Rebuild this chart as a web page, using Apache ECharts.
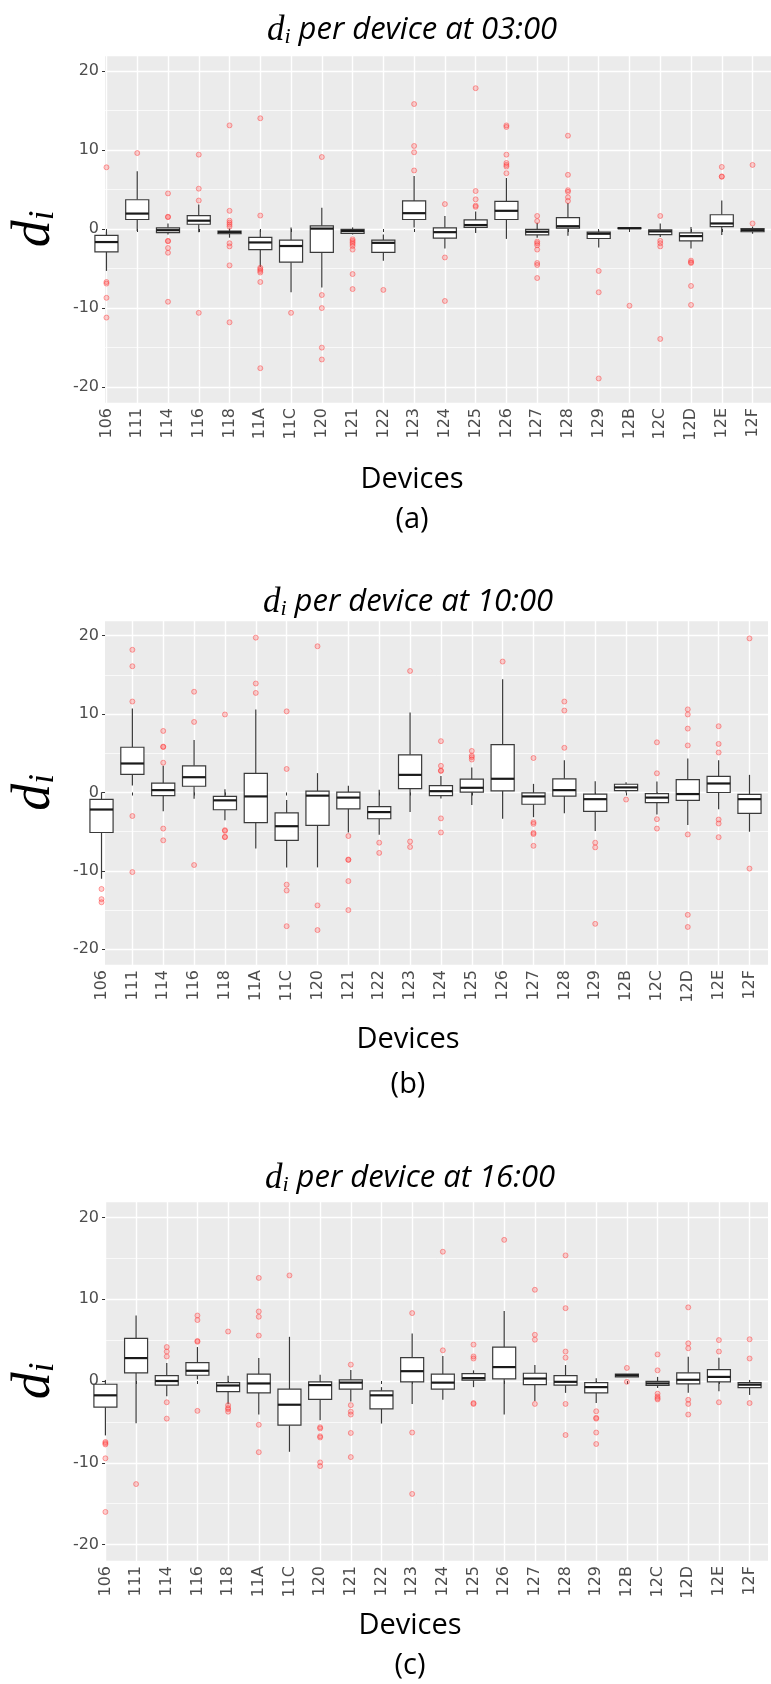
<!DOCTYPE html>
<html>
<head>
<meta charset="utf-8">
<script src="https://cdn.jsdelivr.net/npm/echarts@6/dist/echarts.min.js"></script>
<style>
html, body { margin: 0; padding: 0; background: #fff; }
#main { width: 771px; height: 1684px; }
</style>
</head>
<body>
<div id="main"></div>
<script>
// devices on the x axis
var devices = ['106','111','114','116','118','11A','11C','120','121','122','123','124','125','126','127','128','129','12B','12C','12D','12E','12F'];

// (a) 03:00  -- whisker low, Q1, median, Q3, whisker high
var loA  = [-5.3, -0.25, -0.7, -0.4, -1.1, -4.8, -8.0, -7.4, -0.7, -4.0, 0.2, -2.45, -0.5, -1.25, -1.1, -0.85, -2.35, 0.05, -1.0, -2.45, -0.75, -0.6];
var q1A  = [-2.9, 1.2, -0.45, 0.6, -0.6, -2.6, -4.2, -2.95, -0.55, -2.95, 1.2, -1.15, 0.2, 1.2, -0.75, 0.1, -1.2, 0.05, -0.7, -1.5, 0.3, -0.35];
var medA = [-1.65, 1.95, -0.15, 1.05, -0.4, -1.7, -2.15, 0.05, -0.25, -1.75, 2.0, -0.4, 0.5, 2.3, -0.35, 0.35, -0.6, 0.1, -0.3, -0.9, 0.7, -0.15];
var q3A  = [-0.8, 3.7, 0.15, 1.7, -0.25, -1.05, -1.4, 0.4, -0.05, -1.4, 3.55, 0.15, 1.15, 3.5, -0.05, 1.45, -0.4, 0.15, -0.1, -0.5, 1.8, 0.05];
var hiA  = [-0.35, 7.3, 0.7, 3.1, 0.05, -0.1, 0.2, 2.7, 0.2, -0.7, 6.7, 1.65, 2.2, 6.45, 0.8, 3.3, -0.15, 0.15, 0.7, 0.25, 3.6, 0.3];
var outA = [
  [7.8, -6.7, -6.9, -8.7, -11.2], [9.6], [4.5, 1.55, 1.5, -1.5, -1.55, -2.4, -3.0, -9.2], [9.4, 5.1, 3.6, -10.6],
  [13.1, 2.3, 1.05, 0.8, 0.55, 0.3, -1.8, -2.2, -4.6, -11.8], [14.0, 1.7, -4.9, -5.1, -5.3, -5.5, -6.7, -17.6], [-10.6],
  [9.1, -8.35, -10.0, -15.0, -16.5], [-1.3, -1.5, -1.7, -1.9, -2.15, -2.6, -5.7, -7.6], [-7.7],
  [15.8, 10.5, 9.7, 7.4], [3.15, -3.6, -9.1], [17.8, 4.8, 3.75, 2.95, 2.8], [13.1, 12.9, 9.4, 8.35, 8.1, 7.9, 7.05],
  [1.65, 1.0, -1.6, -1.8, -2.05, -2.6, -4.3, -4.55, -6.2], [11.8, 6.85, 4.9, 4.7, 4.0, 3.55], [-5.3, -8.0, -18.9],
  [-9.7], [1.65, -1.5, -1.8, -2.2, -13.9], [-4.0, -4.2, -4.3, -7.2, -9.6], [7.85, 6.65, 6.6], [8.1, 0.7]
];

// (b) 10:00
var loB  = [-11.0, 0.9, -2.4, -0.8, -3.55, -7.15, -9.55, -9.55, -5.1, -5.4, -2.5, -0.75, -1.6, -3.35, -3.15, -2.65, -4.9, 0, -2.8, -4.15, -2.15, -5.0];
var q1B  = [-5.1, 2.3, -0.4, 0.8, -2.2, -3.85, -6.1, -4.2, -2.1, -3.35, 0.5, -0.4, 0.05, 0.2, -1.5, -0.45, -2.4, 0.25, -1.3, -1.0, 0, -2.65];
var medB = [-2.17, 3.7, 0.3, 1.95, -1.0, -0.5, -4.3, -0.4, -0.65, -2.5, 2.25, 0.17, 0.6, 1.75, -0.5, 0.3, -0.85, 0.65, -0.65, -0.2, 1.15, -0.85];
var q3B  = [-0.87, 5.77, 1.2, 3.4, -0.5, 2.45, -2.6, 0.17, 0.05, -1.8, 4.8, 0.87, 1.7, 6.1, -0.05, 1.75, -0.2, 1.05, -0.15, 1.65, 2.05, -0.25];
var hiB  = [0, 10.7, 3.4, 6.7, 0.4, 10.6, -0.95, 2.47, 0.87, 0.35, 10.2, 2.1, 3.2, 14.45, 1.1, 4.1, 1.45, 1.3, 1.4, 4.35, 4.1, 2.25];
var outB = [
  [-12.3, -13.6, -14.0], [18.2, 16.1, 11.6, -3.0, -10.15], [7.85, 5.85, 5.8, 3.8, -4.6, -6.1], [12.85, 9.0, -9.25],
  [9.95, -4.8, -4.9, -5.65, -5.7], [19.75, 13.9, 12.7], [10.35, 3.0, -11.75, -12.5, -17.05], [18.65, -14.4, -17.55],
  [-5.55, -8.55, -8.6, -11.3, -15.0], [-6.4, -7.7], [15.5, -6.25, -6.95], [6.55, 3.4, 2.8, 2.75, -3.3, -5.1],
  [5.3, 4.7, 4.5, 4.2], [16.7], [4.4, -3.8, -4.0, -5.15, -5.3, -6.8], [11.6, 10.45, 5.7], [-6.4, -7.0, -16.75],
  [-0.9], [6.4, 2.45, -3.4, -4.6], [10.6, 9.95, 8.15, 6.0, -5.35, -15.6, -17.15], [8.45, 6.2, 5.1, -3.45, -3.95, -5.7], [19.65, -9.7]
];

// (c) 16:00
var loC  = [-6.65, -5.15, -1.85, 0.2, -2.85, -4.1, -8.65, -4.8, -2.5, -5.2, -2.8, -2.3, -0.75, -4.1, -2.45, -1.45, -2.7, 0.5, -0.85, -1.45, -1.25, -1.7];
var q1C  = [-3.2, 1.0, -0.5, 0.7, -1.3, -1.45, -5.4, -2.25, -1.0, -3.4, -0.1, -1.0, 0.1, 0.25, -0.45, -0.5, -1.45, 0.5, -0.55, -0.35, -0.1, -0.8];
var medC = [-1.75, 2.8, 0, 1.25, -0.55, -0.3, -2.9, -0.5, -0.2, -1.75, 1.2, -0.2, 0.35, 1.7, 0.3, -0.1, -0.75, 0.7, -0.3, 0.15, 0.5, -0.45];
var q3C  = [-0.4, 5.2, 0.65, 2.25, -0.2, 0.85, -1.0, -0.1, 0.13, -1.2, 2.85, 0.85, 0.9, 4.15, 0.95, 0.65, -0.2, 0.85, -0.05, 1.0, 1.4, -0.2];
var hiC  = [0.13, 8.0, 2.2, 4.15, 0.65, 2.8, 5.4, 0.75, 1.35, -0.75, 5.8, 3.05, 1.3, 8.55, 1.95, 1.95, 0.35, 0.85, 0.5, 2.95, 2.85, 0.13];
var outC = [
  [-7.45, -7.6, -7.75, -9.45, -16.0], [-12.6], [4.15, 3.6, 3.0, -2.6, -4.6], [8.0, 7.45, 4.9, 4.8, -3.65],
  [6.05, -2.95, -3.3, -3.45, -3.75], [12.6, 8.5, 7.85, 5.55, -5.35, -8.7], [12.9], [-5.65, -5.8, -6.75, -6.9, -9.95, -10.4],
  [2.0, -2.95, -3.75, -4.1, -6.35, -9.3], [], [8.3, -6.3, -13.8], [15.8, 3.75], [4.45, 3.0, 2.75, -2.7, -2.8], [17.25],
  [11.15, 5.65, 5.05, -2.8], [15.35, 8.9, 3.6, 2.85, -2.8, -6.6], [-3.7, -4.5, -4.6, -6.3, -7.7], [1.6, -0.1],
  [3.25, 1.3, -1.55, -1.9, -2.1, -2.25], [9.0, 4.6, 4.0, -2.3, -2.8, -4.1], [5.0, 3.6, -2.6], [5.1, 2.75, -2.7]
];

var hours = ['03:00', '10:00', '16:00'];
var tags = ['(a)', '(b)', '(c)'];

// layout of each panel (pixels)
var layouts = [
  {left: 88, top: 55,   width: 683, height: 348, titleX: 412, titleY: 32,   devY: 482,  tagY: 522},
  {left: 83, top: 620,  width: 685, height: 345, titleX: 408, titleY: 604,  devY: 1042, tagY: 1087},
  {left: 87, top: 1201, width: 681, height: 360, titleX: 410, titleY: 1180, devY: 1628, tagY: 1668}
];

var stats = [
  {lo: loA, q1: q1A, med: medA, q3: q3A, hi: hiA, out: outA},
  {lo: loB, q1: q1B, med: medB, q3: q3B, hi: hiB, out: outB},
  {lo: loC, q1: q1C, med: medC, q3: q3C, hi: hiC, out: outC}
];

var axisGrey = '#4D4D4D';

function drawBox(params, api) {
  var x = api.value(0);
  var w = api.size([1, 0])[0] * 0.75;
  var lo = api.coord([x, api.value(1)]);
  var q1 = api.coord([x, api.value(2)]);
  var md = api.coord([x, api.value(3)]);
  var q3 = api.coord([x, api.value(4)]);
  var hi = api.coord([x, api.value(5)]);
  var cx = q1[0];
  var ln = {stroke: '#3a3a3a', lineWidth: 1.2};
  return {
    type: 'group',
    children: [
      {type: 'line', shape: {x1: cx, y1: q3[1], x2: cx, y2: hi[1]}, style: ln},
      {type: 'line', shape: {x1: cx, y1: q1[1], x2: cx, y2: lo[1]}, style: ln},
      {type: 'rect', shape: {x: cx - w / 2, y: q3[1], width: w, height: q1[1] - q3[1]},
        style: {fill: '#ffffff', stroke: '#3a3a3a', lineWidth: 1.2}},
      {type: 'line', shape: {x1: cx - w / 2, y1: md[1], x2: cx + w / 2, y2: md[1]},
        style: {stroke: '#1a1a1a', lineWidth: 2.2}}
    ]
  };
}

var grid = [], xAxis = [], yAxis = [], series = [], title = [];

layouts.forEach(function (L, p) {
  var S = stats[p];
  var band = L.width / 22.2;
  // grey panel (ggplot expands a discrete axis by 0.6 of a band)
  grid.push({left: L.left, top: L.top, width: L.width, height: L.height,
    show: true, backgroundColor: '#EBEBEB', borderWidth: 0});
  grid.push({left: L.left + 0.1 * band, top: L.top, width: 22 * band, height: L.height});

  xAxis.push({gridIndex: 2 * p, type: 'value', min: 0, max: 1, show: false});
  yAxis.push({
    gridIndex: 2 * p, type: 'value', min: -22, max: 22,
    axisLine: {show: false},
    axisTick: {show: true, length: 3, lineStyle: {color: '#333', width: 1}},
    axisLabel: {margin: 6, color: axisGrey, fontSize: 16, fontFamily: 'DejaVu Sans',
      showMinLabel: false, showMaxLabel: false},
    splitLine: {show: true, lineStyle: {color: '#ffffff', width: 1.4}},
    minorTick: {show: false, splitNumber: 2},
    minorSplitLine: {show: true, lineStyle: {color: '#ffffff', width: 0.7}},
    name: '{d|d}{s|i}', nameLocation: 'middle', nameRotate: 90, nameGap: 27,
    nameTextStyle: {
      rich: {
        d: {fontFamily: 'Liberation Serif', fontStyle: 'italic', fontSize: 54, color: '#000'},
        s: {fontFamily: 'Liberation Serif', fontStyle: 'italic', fontSize: 35, color: '#000', padding: [18, 0, 0, 0]}
      }
    }
  });

  xAxis.push({
    gridIndex: 2 * p + 1, type: 'category', data: devices,
    axisLine: {show: false},
    axisTick: {show: true, alignWithLabel: true, length: 3, lineStyle: {color: '#333', width: 1}},
    axisLabel: {rotate: 90, margin: 5, color: axisGrey, fontSize: 16, fontFamily: 'DejaVu Sans', interval: 0},
    splitLine: {show: true, alignWithLabel: true, interval: 0, lineStyle: {color: '#ffffff', width: 1.4}}
  });
  yAxis.push({gridIndex: 2 * p + 1, type: 'value', min: -22, max: 22, show: false});

  var boxes = devices.map(function (d, i) {
    return [i, S.lo[i], S.q1[i], S.med[i], S.q3[i], S.hi[i]];
  });
  series.push({
    type: 'custom', xAxisIndex: 2 * p + 1, yAxisIndex: 2 * p + 1,
    renderItem: drawBox, encode: {x: 0, y: [1, 2, 3, 4, 5]},
    data: boxes, z: 3, silent: true
  });

  var pts = [];
  S.out.forEach(function (vals, i) {
    vals.forEach(function (v) { pts.push([i, v]); });
  });
  series.push({
    type: 'scatter', xAxisIndex: 2 * p + 1, yAxisIndex: 2 * p + 1,
    data: pts, symbol: 'circle', symbolSize: 5, z: 4, silent: true,
    itemStyle: {color: 'rgba(255,90,90,0.35)', borderColor: 'rgba(255,50,50,0.55)', borderWidth: 1}
  });

  title.push({
    text: '{d|d}{s|i}{t| per device at ' + hours[p] + '}',
    left: L.titleX, top: L.titleY - 19, textAlign: 'center', padding: 0,
    textStyle: {
      fontWeight: 'normal',
      rich: {
        d: {fontFamily: 'Liberation Serif', fontStyle: 'italic', fontWeight: 'normal', fontSize: 35, color: '#000'},
        s: {fontFamily: 'Liberation Serif', fontStyle: 'italic', fontWeight: 'normal', fontSize: 22, color: '#000', padding: [13, 0, 0, 0]},
        t: {fontFamily: 'Open Sans', fontStyle: 'italic', fontWeight: 'normal', fontSize: 31, color: '#000'}
      }
    }
  });
  title.push({
    text: 'Devices', left: L.titleX, top: L.devY - 17, textAlign: 'center', padding: 0,
    textStyle: {fontFamily: 'Open Sans', fontWeight: 'normal', fontSize: 29, color: '#000'}
  });
  title.push({
    text: tags[p], left: L.titleX, top: L.tagY - 17, textAlign: 'center', padding: 0,
    textStyle: {fontFamily: 'Open Sans', fontWeight: 'normal', fontSize: 29, color: '#000'}
  });
});

var chart = echarts.init(document.getElementById('main'));
chart.setOption({
  animation: false,
  backgroundColor: '#ffffff',
  title: title,
  grid: grid,
  xAxis: xAxis,
  yAxis: yAxis,
  series: series
});
</script>
</body>
</html>
